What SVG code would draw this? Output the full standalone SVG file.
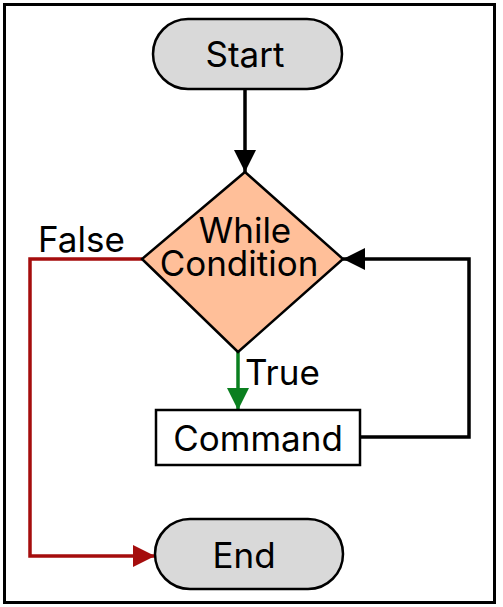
<svg xmlns="http://www.w3.org/2000/svg" width="503" height="607" viewBox="0 0 503 607">
<style>
text{font-family:Inter,"Liberation Sans",sans-serif;font-size:35px;fill:#000;text-anchor:middle}
.pill{fill:#d9d9d9;stroke:#000;stroke-width:2.5}
.lbl{text-anchor:start}
</style>
<defs>
<marker id="ab" viewBox="0 0 10 10" refX="10" refY="5" markerWidth="22" markerHeight="22" markerUnits="userSpaceOnUse" orient="auto"><path d="M0,0 L10,5 L0,10 Z" fill="#000"/></marker>
<marker id="ar" viewBox="0 0 10 10" refX="10" refY="5" markerWidth="22" markerHeight="22" markerUnits="userSpaceOnUse" orient="auto"><path d="M0,0 L10,5 L0,10 Z" fill="#a50d0d"/></marker>
<marker id="ag" viewBox="0 0 10 10" refX="10" refY="5" markerWidth="22" markerHeight="22" markerUnits="userSpaceOnUse" orient="auto"><path d="M0,0 L10,5 L0,10 Z" fill="#0a7f1f"/></marker>
</defs>
<rect x="4.5" y="4.5" width="490" height="598" fill="#fff" stroke="#000" stroke-width="3"/>
<g id="connectors" fill="none" stroke-width="3.5">
<path d="M245,89 V172" stroke="#000" marker-end="url(#ab)"/>
<path d="M142,259 H30 V556 H155" stroke="#a50d0d" marker-end="url(#ar)"/>
<path d="M238,352 V410" stroke="#0a7f1f" marker-end="url(#ag)"/>
<path d="M360,437 H469 V259 H343" stroke="#000" marker-end="url(#ab)"/>
</g>
<g id="start"><rect class="pill" x="153" y="19" width="189" height="70" rx="35"/><text x="245" y="67">Start</text></g>
<g id="cond"><polygon points="245,172 343,259 238,352 142,259" fill="#ffbf99" stroke="#000" stroke-width="2.5"/><text x="245" y="243">While</text><text x="239" y="276">Condition</text></g>
<g id="command"><rect x="156" y="410" width="204" height="55" fill="#fff" stroke="#000" stroke-width="2.5"/><text x="258" y="451">Command</text></g>
<g id="end"><rect class="pill" x="155" y="519" width="188" height="70" rx="35"/><text x="244" y="568">End</text></g>
<g id="labels"><text class="lbl" x="38" y="252">False</text><text class="lbl" x="245" y="385">True</text></g>
</svg>
